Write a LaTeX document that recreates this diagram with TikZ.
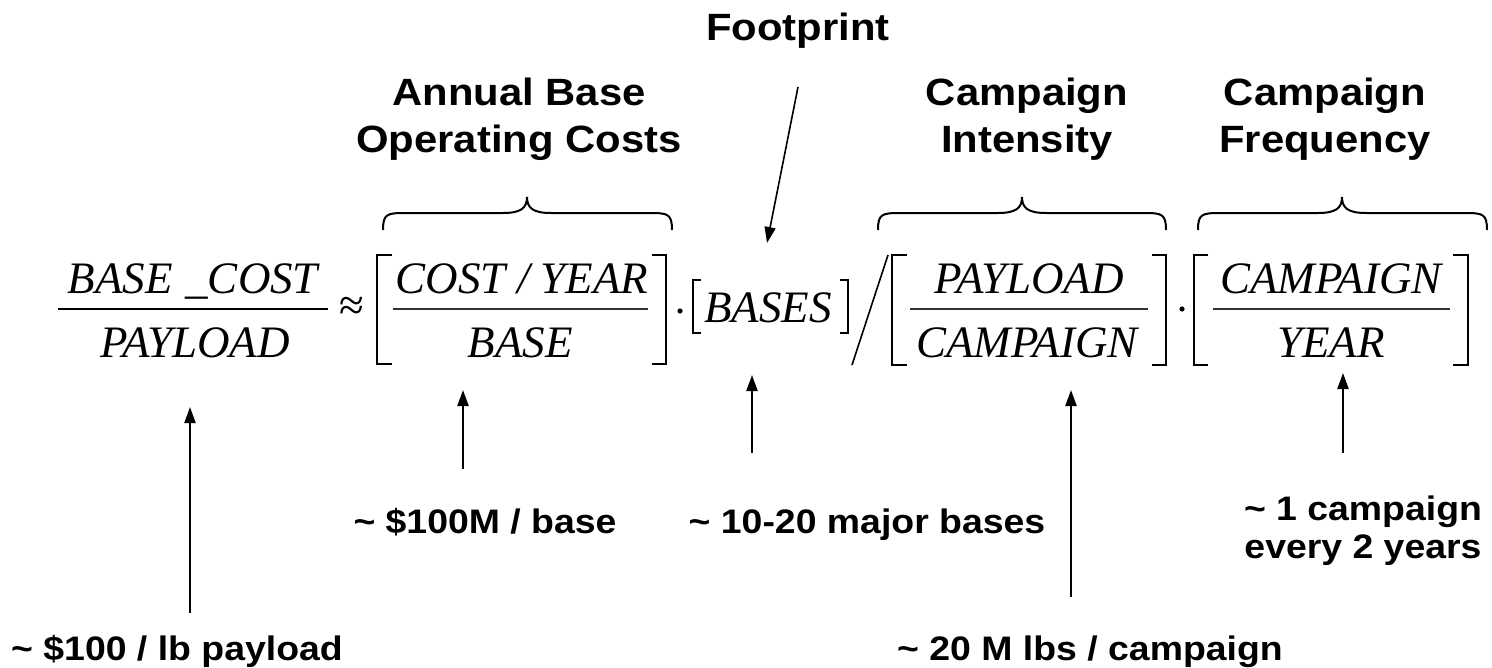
\documentclass[tikz,border=0pt]{standalone}
\usepackage{fontspec}
\setmainfont{Liberation Serif}
\newfontfamily\labfont{Liberation Sans}[FakeStretch=1.1]
\usetikzlibrary{arrows.meta}
\newcommand\curlyover[3]{%
  \draw[brc] (#1,230) .. controls (#1,214) and (#1+4,213) .. (#1+22,213)
    -- (#2-24,213) .. controls (#2-6,213) and (#2,208) .. (#2,197)
    .. controls (#2,208) and (#2+6,213) .. (#2+24,213)
    -- (#3-22,213) .. controls (#3-4,213) and (#3,214) .. (#3,230);}
\begin{document}
\begin{tikzpicture}[x=1pt,y=-1pt,
  head/.style={font=\labfont\bfseries\fontsize{38}{44}\selectfont, inner sep=0pt, anchor=base},
  note/.style={font=\labfont\bfseries\fontsize{34}{40}\selectfont, inner sep=0pt, anchor=base},
  eq/.style={font=\itshape\fontsize{45}{50}\selectfont, inner sep=0pt, anchor=base},
  brk/.style={line width=1.6pt},
  brc/.style={line width=2pt},
  fbar/.style={line width=1.3pt, black!80},
  arr/.style={line width=2.2pt, -{Triangle[length=16pt,width=11pt]}}]
\useasboundingbox[fill=white] (0,0) rectangle (1492,667);

% ---------- headings ----------
\node[head] (foot) at (798,40) {Footprint};
\node[head] (abo1) at (519,105) {Annual Base};
\node[head] (abo2) at (519,152) {Operating Costs};
\node[head] (ci1) at (1027,105) {Campaign};
\node[head] (ci2) at (1027,152) {Intensity};
\node[head] (cf1) at (1325,105) {Campaign};
\node[head] (cf2) at (1325,152) {Frequency};

% ---------- braces ----------
\curlyover{383}{527}{672}
\curlyover{878}{1022}{1166}
\curlyover{1198}{1342}{1487}

% ---------- equation ----------
\node[eq] (n1) at (193,293) {BASE\hspace{0.28em}\_COST};
\node[eq] (d1) at (195,357) {PAYLOAD};
\draw[line width=2pt] (58,309) -- (328,309);
\node[font=\fontsize{45}{50}\selectfont, inner sep=0pt] (apx) at (352,309) {≈};

\draw[brk] (392,255) -- (377,255) -- (377,364) -- (392,364);
\draw[brk] (652,255) -- (666,255) -- (666,364) -- (652,364);
\node[eq] (n2) at (522,293) {COST / YEAR};
\node[eq] (d2) at (520,357) {BASE};
\draw[fbar] (393,309) -- (648,309);

\fill (680,311) circle (2.6);

\draw[brk] (701,280) -- (693,280) -- (693,333) -- (701,333);
\draw[brk] (840,280) -- (848,280) -- (848,333) -- (840,333);
\node[eq] (bs) at (768,322) {BASES};

\draw[brk] (888,255) -- (852,365);

\draw[brk] (907,255) -- (892,255) -- (892,365) -- (907,365);
\draw[brk] (1152,255) -- (1166,255) -- (1166,365) -- (1152,365);
\node[eq] (n3) at (1029,293) {PAYLOAD};
\node[eq] (d3) at (1027,357) {CAMPAIGN};
\draw[fbar] (910,309) -- (1148,309);

\fill (1182,309) circle (2.6);

\draw[brk] (1208,255) -- (1194,255) -- (1194,365) -- (1208,365);
\draw[brk] (1453,255) -- (1468,255) -- (1468,365) -- (1453,365);
\node[eq] (n4) at (1331,293) {CAMPAIGN};
\node[eq] (d4) at (1331,357) {YEAR};
\draw[fbar] (1213,309) -- (1450,309);

% ---------- notes ----------
\node[note] (l1) at (177,660) {\textasciitilde{} \$100 / lb payload};
\node[note] (l2) at (485,533) {\textasciitilde{} \$100M / base};
\node[note] (l3) at (867,533) {\textasciitilde{} 10-20 major bases};
\node[note] (l4) at (1090,660) {\textasciitilde{} 20 M lbs / campaign};
\node[note] (l5a) at (1363,520) {\textasciitilde{} 1 campaign};
\node[note] (l5b) at (1363,558) {every 2 years};

% ---------- arrows ----------
\coordinate (a1s) at (190,613);  \coordinate (a1e) at (190,407);
\coordinate (a2s) at (463,469);  \coordinate (a2e) at (463,390);
\coordinate (a3s) at (752,453);  \coordinate (a3e) at (752,375);
\coordinate (a4s) at (1071,597); \coordinate (a4e) at (1071,390);
\coordinate (a5s) at (1343,453); \coordinate (a5e) at (1343,373);
\coordinate (fs) at (798,87);    \coordinate (fe) at (767,243);
\draw[arr] (a1s) -- (a1e);
\draw[arr] (a2s) -- (a2e);
\draw[arr] (a3s) -- (a3e);
\draw[arr] (a4s) -- (a4e);
\draw[arr] (a5s) -- (a5e);
\draw[arr, line width=1.6pt] (fs) -- (fe);
\end{tikzpicture}
\end{document}
